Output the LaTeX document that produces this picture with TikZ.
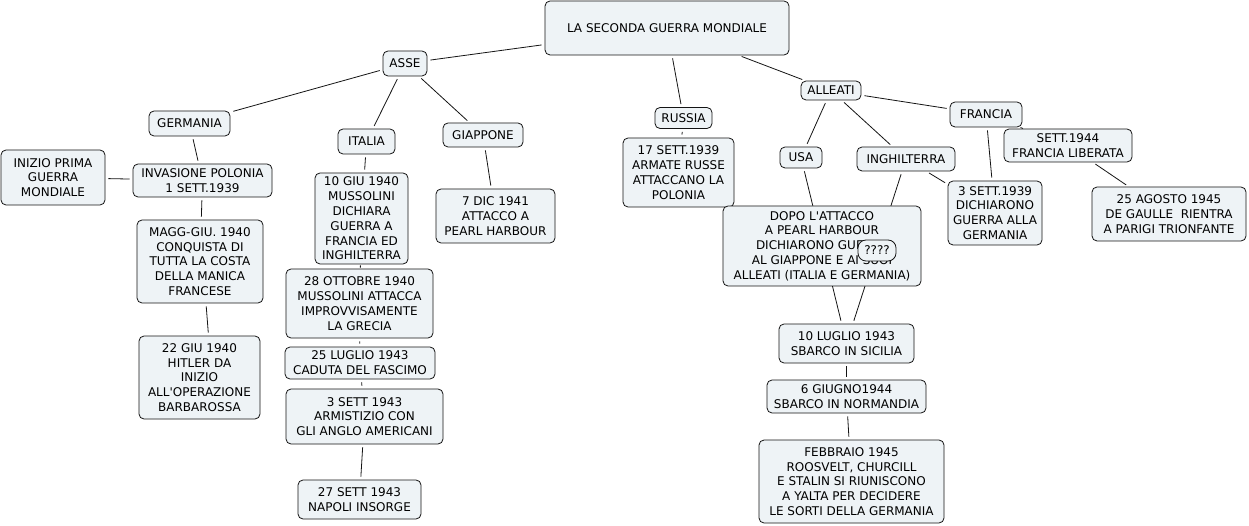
\documentclass[tikz,border=0pt]{standalone}
\usepackage{fontspec}
\newfontfamily\dv{DejaVu Sans}
\definecolor{boxfill}{RGB}{238,243,246}
\definecolor{linec}{RGB}{20,20,20}
\tikzset{
  concept/.style={draw=linec, line width=0.8pt, rounded corners=5pt, fill=boxfill,
    align=center, inner sep=1pt, text=black,
    font=\dv\fontsize{12}{14.8}\selectfont},
  link/.style={draw=linec, line width=0.8pt, shorten <=3pt, shorten >=3pt}
}
\begin{document}
\begin{tikzpicture}[x=1pt,y=-1pt]
\useasboundingbox (0,0) rectangle (1249,526);
\fill[white] (0,0) rectangle (1249,526);
\begin{scope}[every node/.style={concept}]
\node[minimum width=244pt, minimum height=54pt] (title) at (667,28) {LA SECONDA GUERRA MONDIALE};
\node[minimum width=44pt, minimum height=25pt] (asse) at (405,63.5) {ASSE};
\node[minimum width=81pt, minimum height=25pt] (germania) at (189.5,123.5) {GERMANIA};
\node[minimum width=57pt, minimum height=25pt] (italia) at (366.5,141.5) {ITALIA};
\node[minimum width=80pt, minimum height=24pt] (giappone) at (483,135) {GIAPPONE};
\node[minimum width=104pt, minimum height=55pt] (inizio) at (53,177.5) {INIZIO PRIMA\\GUERRA\\MONDIALE};
\node[minimum width=139pt, minimum height=33pt] (invasione) at (202.5,180.5) {INVASIONE POLONIA\\1 SETT.1939};
\node[minimum width=126pt, minimum height=83pt] (magg) at (200,261.5) {MAGG-GIU. 1940\\CONQUISTA DI\\TUTTA LA COSTA\\DELLA MANICA\\FRANCESE};
\node[minimum width=121pt, minimum height=83pt] (hitler) at (199.5,377.5) {22 GIU 1940\\HITLER DA\\INIZIO\\ALL'OPERAZIONE\\BARBAROSSA};
\node[minimum width=93pt, minimum height=91pt] (giu10) at (361.5,218.5) {10 GIU 1940\\MUSSOLINI\\DICHIARA\\GUERRA A\\FRANCIA ED\\INGHILTERRA};
\node[minimum width=147pt, minimum height=69pt] (ott28) at (359.5,303.5) {28 OTTOBRE 1940\\MUSSOLINI ATTACCA\\IMPROVVISAMENTE\\LA GRECIA};
\node[minimum width=150pt, minimum height=32pt] (lug25) at (360,363) {25 LUGLIO 1943\\CADUTA DEL FASCIMO};
\node[minimum width=157pt, minimum height=55pt] (sett3) at (364.5,416.5) {3 SETT 1943\\ARMISTIZIO CON\\GLI ANGLO AMERICANI};
\node[minimum width=123pt, minimum height=39pt] (sett27) at (359.5,499.5) {27 SETT 1943\\NAPOLI INSORGE};
\node[minimum width=119pt, minimum height=54pt] (dic7) at (495.5,216) {7 DIC 1941\\ATTACCO A\\PEARL HARBOUR};
\node[minimum width=57pt, minimum height=21pt] (russia) at (683.5,118) {RUSSIA};
\node[minimum width=111pt, minimum height=69pt] (russe) at (678.5,172.5) {17 SETT.1939\\ARMATE RUSSE\\ATTACCANO LA\\POLONIA};
\node[minimum width=60pt, minimum height=19pt] (alleati) at (831,90.5) {ALLEATI};
\node[minimum width=42pt, minimum height=21pt] (usa) at (801,157.5) {USA};
\node[minimum width=98pt, minimum height=24pt] (inghilterra) at (906,159) {INGHILTERRA};
\node[minimum width=72pt, minimum height=25pt] (francia) at (986,114.5) {FRANCIA};
\node[minimum width=128pt, minimum height=33pt] (sett1944) at (1068,145.5) {SETT.1944\\FRANCIA LIBERATA};
\node[minimum width=94pt, minimum height=64pt] (dich) at (995,213) {3 SETT.1939\\DICHIARONO\\GUERRA ALLA\\GERMANIA};
\node[minimum width=154pt, minimum height=54pt] (gaulle) at (1169,214) {25 AGOSTO 1945\\DE GAULLE\ \ RIENTRA\\A PARIGI TRIONFANTE};
\node[minimum width=135pt, minimum height=39pt] (sicilia) at (846.5,343.5) {10 LUGLIO 1943\\SBARCO IN SICILIA};
\node[minimum width=159pt, minimum height=33pt] (normandia) at (846.5,396.5) {6 GIUGNO1944\\SBARCO IN NORMANDIA};
\node[minimum width=185pt, minimum height=83pt] (yalta) at (851.5,481.5) {FEBBRAIO 1945\\ROOSVELT, CHURCILL\\E STALIN SI RIUNISCONO\\A YALTA PER DECIDERE\\LE SORTI DELLA GERMANIA};
\end{scope}
\draw[link] (title) -- (asse);
\draw[link] (title) -- (russia);
\draw[link] (title) -- (alleati);
\draw[link] (asse) -- (germania);
\draw[link] (asse) -- (italia);
\draw[link] (asse) -- (giappone);
\draw[link] (germania) -- (invasione);
\draw[link] (invasione) -- (inizio);
\draw[link] (invasione) -- (magg);
\draw[link] ([xshift=6pt]magg.south) -- ([xshift=9pt]hitler.north);
\draw[link] (italia) -- (giu10);
\draw[link, shorten <=1pt, shorten >=1pt] (giu10) -- (ott28);
\draw[link] (ott28) -- (lug25);
\draw[link] (lug25) -- (sett3);
\draw[link] (sett3) -- (sett27);
\draw[link] (giappone) -- (dic7);
\draw[link] (russia) -- (russe);
\draw[link] (alleati) -- (usa);
\draw[link] (alleati) -- (inghilterra);
\draw[link] (alleati) -- (francia);
\draw[link] (usa) -- (sicilia);
\draw[link] (inghilterra) -- (sicilia);
\draw[link] (inghilterra) -- (dich);
\draw[link] (francia) -- (dich);
\draw[link] (francia) -- (sett1944);
\draw[link] (sett1944) -- (gaulle);
\draw[link] (sicilia) -- (normandia);
\draw[link] (normandia) -- (yalta);
\node[concept, minimum width=198pt, minimum height=80pt] (dopo) at (822,246) {DOPO L'ATTACCO\\A PEARL HARBOUR\\DICHIARONO GUERRA\\AL GIAPPONE E AI SUOI\\ALLEATI (ITALIA E GERMANIA)};
\node[concept, rounded corners=8pt, minimum width=38pt, minimum height=21pt] (qq) at (877,250.5) {????};
\end{tikzpicture}
\end{document}
